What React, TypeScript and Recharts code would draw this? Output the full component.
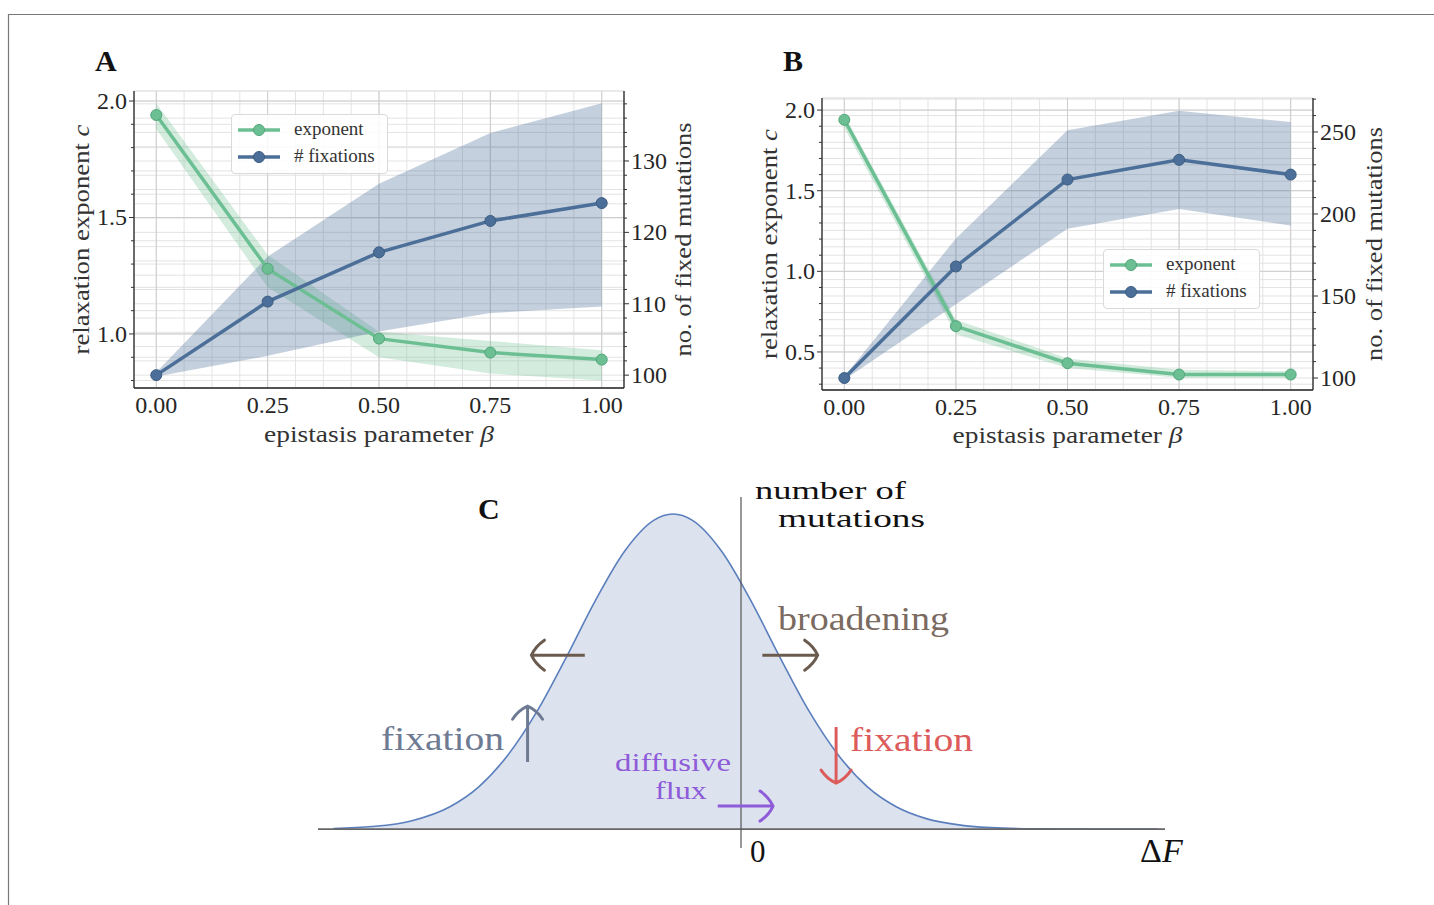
import React from 'react';
import {
  Area,
  CartesianGrid,
  ComposedChart,
  Line,
  ReferenceLine,
  XAxis,
  YAxis,
} from 'recharts';

const FONT = "'Liberation Serif', 'Times New Roman', serif";
const GREEN = '#6cbf93';
const GREEN_DARK = '#52a57a';
const BLUE = '#4b6f98';
const BLUE_DARK = '#3c5c82';

// shared x values
const BETA = [0, 0.25, 0.5, 0.75, 1];
const SERIES = ['exponent', '# fixations'];

// panel A
const A_EXP = [1.94, 1.28, 0.98, 0.92, 0.89];
const A_EXP_LO = [1.88, 1.2, 0.9, 0.83, 0.8];
const A_EXP_HI = [1.99, 1.34, 1.01, 0.97, 0.93];
const A_FIX = [100, 110.3, 117.2, 121.6, 124.1];
const A_FIX_LO = [99.8, 102.7, 106.1, 108.7, 109.6];
const A_FIX_HI = [100.4, 116.6, 126.8, 133.9, 138.1];

// panel B
const B_EXP = [1.94, 0.66, 0.43, 0.36, 0.36];
const B_EXP_LO = [1.89, 0.61, 0.4, 0.34, 0.34];
const B_EXP_HI = [1.97, 0.7, 0.46, 0.39, 0.38];
const B_FIX = [100, 168, 221, 233, 224];
const B_FIX_LO = [99, 145, 191, 203, 193];
const B_FIX_HI = [101, 185, 251, 263, 256];

// ticks
const X_TICKS = [0, 0.0625, 0.125, 0.1875, 0.25, 0.3125, 0.375, 0.4375, 0.5, 0.5625, 0.625, 0.6875, 0.75, 0.8125, 0.875, 0.9375, 1];
const X_MAJOR = [0, 0.25, 0.5, 0.75, 1];
const A_LEFT_TICKS = [0.8, 0.9, 1.0, 1.1, 1.2, 1.3, 1.4, 1.5, 1.6, 1.7, 1.8, 1.9, 2.0];
const A_LEFT_MAJOR = [1.0, 1.5, 2.0];
const A_RIGHT_TICKS = [100, 102, 104, 106, 108, 110, 112, 114, 116, 118, 120, 122, 124, 126, 128, 130, 132, 134, 136, 138];
const A_RIGHT_MAJOR = [100, 110, 120, 130];
const B_LEFT_TICKS = [0.3, 0.4, 0.5, 0.6, 0.7, 0.8, 0.9, 1.0, 1.1, 1.2, 1.3, 1.4, 1.5, 1.6, 1.7, 1.8, 1.9, 2.0];
const B_LEFT_MAJOR = [0.5, 1.0, 1.5, 2.0];
const B_RIGHT_TICKS = [100, 110, 120, 130, 140, 150, 160, 170, 180, 190, 200, 210, 220, 230, 240, 250, 260, 270];
const B_RIGHT_MAJOR = [100, 150, 200, 250];

// panel C: distribution of mutation effects
const DF = [-4.2, -3.8, -3.4, -3.0, -2.7, -2.4, -2.1, -1.8, -1.5, -1.2, -0.9, -0.7, -0.5, -0.2, 0.1, 0.4, 0.7, 1.0, 1.3, 1.6, 1.9, 2.3, 2.7, 3.1, 3.6, 4.3];
const COUNT = [0.002, 0.008, 0.026, 0.071, 0.135, 0.236, 0.375, 0.546, 0.726, 0.882, 0.98, 1.0, 0.98, 0.882, 0.726, 0.546, 0.375, 0.236, 0.135, 0.071, 0.034, 0.011, 0.003, 0.001, 0.0, 0.0];

const ARROWS = [
  { x1: -1.61, y1: 0.552, x2: -2.16, y2: 0.552, color: '#6b5b4f' },
  { x1: 0.22, y1: 0.552, x2: 0.79, y2: 0.552, color: '#6b5b4f' },
  { x1: -2.2, y1: 0.213, x2: -2.2, y2: 0.39, color: '#6e7b93' },
  { x1: 0.98, y1: 0.324, x2: 0.98, y2: 0.146, color: '#dc5b5b' },
  { x1: -0.24, y1: 0.073, x2: 0.33, y2: 0.073, color: '#8e5bd9' },
];

const isIn = (arr: number[], v: number) => arr.some((a) => Math.abs(a - v) < 1e-6);

const makeRows = (exp: number[], lo: number[], hi: number[], fix: number[], flo: number[], fhi: number[]) =>
  BETA.map((b, i) => ({
    beta: b,
    exp: exp[i],
    expBand: [lo[i], hi[i]],
    fix: fix[i],
    fixBand: [flo[i], fhi[i]],
  }));

const bottomTick = (props: any) => {
  const { x, y, payload } = props;
  if (!isIn(X_MAJOR, payload.value)) return <g />;
  return (
    <text x={x} y={y + 25} textAnchor="middle" fontSize={24} fill="#262626" fontFamily={FONT}>
      {payload.value.toFixed(2)}
    </text>
  );
};

const sideTick = (side: 'left' | 'right', major: number[], digits: number) => (props: any) => {
  const { x, y, payload } = props;
  const v = payload.value;
  const isMajor = isIn(major, v);
  const len = isMajor ? 5 : 3;
  const s = side === 'left' ? -1 : 1;
  return (
    <g>
      <line x1={x} x2={x + s * len} y1={y} y2={y} stroke="#333" strokeWidth={1} />
      {isMajor && (
        <text
          x={x + s * 7}
          y={y + 8}
          textAnchor={side === 'left' ? 'end' : 'start'}
          fontSize={24}
          fill="#262626"
          fontFamily={FONT}
        >
          {v.toFixed(digits)}
        </text>
      )}
    </g>
  );
};

const vLabel = (cx: number, cy: number, len: number, node: React.ReactNode) => () => (
  <text
    x={cx - len / 2}
    y={cy}
    transform={`rotate(-90 ${cx} ${cy})`}
    fontSize={24}
    fill="#333"
    fontFamily={FONT}
    textLength={len}
    lengthAdjust="spacingAndGlyphs"
  >
    {node}
  </text>
);

const hLabel = (cx: number, cy: number) => () => (
  <text
    x={cx - 115}
    y={cy}
    fontSize={24}
    fill="#333"
    fontFamily={FONT}
    textLength={230}
    lengthAdjust="spacingAndGlyphs"
  >
    epistasis parameter <tspan fontStyle="italic">β</tspan>
  </text>
);

function LegendBox({ left, top }: { left: number; top: number }) {
  const colors = [
    [GREEN, GREEN_DARK],
    [BLUE, BLUE_DARK],
  ];
  return (
    <div
      style={{
        position: 'absolute',
        left,
        top,
        width: 155,
        height: 58,
        border: '1px solid #dadada',
        borderRadius: 4,
        background: 'rgba(255,255,255,0.85)',
        fontFamily: FONT,
        fontSize: 19,
        color: '#333',
      }}
    >
      {SERIES.map((name, i) => (
        <div key={name} style={{ position: 'absolute', left: 0, top: 5 + i * 27, height: 20, width: 155 }}>
          <svg width={52} height={20} style={{ position: 'absolute', left: 0, top: 0 }}>
            <line x1={6} x2={48} y1={10} y2={10} stroke={colors[i][0]} strokeWidth={3.5} />
            <circle cx={27} cy={10} r={5.5} fill={colors[i][0]} stroke={colors[i][1]} strokeWidth={1} />
          </svg>
          <span style={{ position: 'absolute', left: 62, top: -2, whiteSpace: 'nowrap' }}>{name}</span>
        </div>
      ))}
    </div>
  );
}

type PanelProps = {
  left: number;
  top: number;
  marginTop: number;
  leftW: number;
  rightW: number;
  bottomH: number;
  rows: any[];
  leftDomain: [number, number];
  rightDomain: [number, number];
  leftTicks: number[];
  leftMajor: number[];
  rightTicks: number[];
  rightMajor: number[];
  leftLabelX: number;
  rightLabelX: number;
  xLabelY: number;
};

function Panel(p: PanelProps) {
  const W = 680;
  const H = 380;
  const plotCx = p.leftW + (W - p.leftW - p.rightW) / 2;
  const plotCy = p.marginTop + (H - p.marginTop - p.bottomH) / 2;
  return (
    <div style={{ position: 'absolute', left: p.left, top: p.top }}>
      <ComposedChart width={W} height={H} data={p.rows} margin={{ top: p.marginTop, right: 0, bottom: 0, left: 0 }}>
        <XAxis
          type="number"
          dataKey="beta"
          domain={[-0.05, 1.05]}
          ticks={X_TICKS}
          interval={0}
          height={p.bottomH}
          tickSize={0}
          tickMargin={0}
          tickLine={false}
          axisLine={{ stroke: '#222', strokeWidth: 1.3 }}
          tick={bottomTick}
          allowDataOverflow
          label={{ content: hLabel(plotCx, p.xLabelY) }}
        />
        <XAxis
          xAxisId="top"
          orientation="top"
          type="number"
          dataKey="beta"
          domain={[-0.05, 1.05]}
          height={0}
          tick={false}
          tickLine={false}
          axisLine={{ stroke: '#222', strokeWidth: 1.3 }}
        />
        <YAxis
          yAxisId="left"
          type="number"
          domain={p.leftDomain}
          ticks={p.leftTicks}
          interval={0}
          width={p.leftW}
          tickSize={0}
          tickMargin={0}
          tickLine={false}
          axisLine={{ stroke: '#222', strokeWidth: 1.3 }}
          tick={sideTick('left', p.leftMajor, 1)}
          allowDataOverflow
          label={{
            content: vLabel(p.leftLabelX, plotCy, 230, (
              <>
                relaxation exponent <tspan fontStyle="italic">c</tspan>
              </>
            )),
          }}
        />
        <YAxis
          yAxisId="right"
          orientation="right"
          type="number"
          domain={p.rightDomain}
          ticks={p.rightTicks}
          interval={0}
          width={p.rightW}
          tickSize={0}
          tickMargin={0}
          tickLine={false}
          axisLine={{ stroke: '#222', strokeWidth: 1.3 }}
          tick={sideTick('right', p.rightMajor, 0)}
          allowDataOverflow
          label={{ content: vLabel(p.rightLabelX, plotCy, 234, 'no. of fixed mutations') }}
        />
        <CartesianGrid yAxisId="left" stroke="#e3e3e3" strokeWidth={1} />
        <CartesianGrid yAxisId="right" vertical={false} stroke="#e3e3e3" strokeWidth={1} />
        <CartesianGrid
          yAxisId="left"
          horizontalValues={p.leftMajor}
          verticalValues={X_MAJOR}
          stroke="#cdcdcd"
          strokeWidth={1}
        />
        <Area
          yAxisId="left"
          type="linear"
          dataKey="expBand"
          stroke="none"
          fill={GREEN}
          fillOpacity={0.3}
          isAnimationActive={false}
        />
        <Line
          yAxisId="left"
          type="linear"
          dataKey="exp"
          stroke={GREEN}
          strokeWidth={3.5}
          dot={{ r: 5.5, fill: GREEN, stroke: GREEN_DARK, strokeWidth: 1 }}
          isAnimationActive={false}
        />
        <Area
          yAxisId="right"
          type="linear"
          dataKey="fixBand"
          stroke="none"
          fill={BLUE}
          fillOpacity={0.33}
          isAnimationActive={false}
        />
        <Line
          yAxisId="right"
          type="linear"
          dataKey="fix"
          stroke={BLUE}
          strokeWidth={3.5}
          dot={{ r: 5.5, fill: BLUE, stroke: BLUE_DARK, strokeWidth: 1 }}
          isAnimationActive={false}
        />
      </ComposedChart>
    </div>
  );
}

const arrowShape = (color: string) => (props: any) => {
  const { x1, y1, x2, y2 } = props;
  const dx = x2 - x1;
  const dy = y2 - y1;
  const L = Math.hypot(dx, dy) || 1;
  const ux = dx / L;
  const uy = dy / L;
  const nx = -uy;
  const ny = ux;
  const back = 13;
  const wide = 15;
  const b1x = x2 - back * ux + wide * nx;
  const b1y = y2 - back * uy + wide * ny;
  const b2x = x2 - back * ux - wide * nx;
  const b2y = y2 - back * uy - wide * ny;
  const k1x = x2 - 4 * ux + 9 * nx;
  const k1y = y2 - 4 * uy + 9 * ny;
  const k2x = x2 - 4 * ux - 9 * nx;
  const k2y = y2 - 4 * uy - 9 * ny;
  return (
    <g>
      <line x1={x1} y1={y1} x2={x2} y2={y2} stroke={color} strokeWidth={3} />
      <path
        d={`M${b1x},${b1y} Q${k1x},${k1y} ${x2},${y2} Q${k2x},${k2y} ${b2x},${b2y}`}
        fill="none"
        stroke={color}
        strokeWidth={3}
        strokeLinecap="round"
      />
    </g>
  );
};

function Sketch() {
  const rows = DF.map((d, i) => ({ df: d, h: COUNT[i] }));
  return (
    <div style={{ position: 'absolute', left: 318, top: 497 }}>
      <ComposedChart width={847} height={351} data={rows} margin={{ top: 0, right: 0, bottom: 0, left: 0 }}>
        <XAxis type="number" dataKey="df" domain={[-4.36, 4.37]} hide allowDataOverflow />
        <YAxis type="number" domain={[-0.06, 1.054]} hide allowDataOverflow />
        <Area
          type="monotone"
          dataKey="h"
          stroke="#5b7fbd"
          strokeWidth={1.6}
          fill="#dde3ee"
          fillOpacity={1}
          isAnimationActive={false}
        />
        <ReferenceLine y={0} stroke="#666" strokeWidth={1.6} />
        <ReferenceLine x={0} stroke="#555" strokeWidth={1.2} />
        {ARROWS.map((a, i) => (
          <ReferenceLine
            key={i}
            segment={[
              { x: a.x1, y: a.y1 },
              { x: a.x2, y: a.y2 },
            ]}
            shape={arrowShape(a.color)}
          />
        ))}
      </ComposedChart>
    </div>
  );
}

const ann = (x: number, y: number, size: number, color: string, len: number, text: string) => (
  <text x={x} y={y} fontSize={size} fill={color} textLength={len} lengthAdjust="spacingAndGlyphs">
    {text}
  </text>
);

export default function App() {
  const rowsA = makeRows(A_EXP, A_EXP_LO, A_EXP_HI, A_FIX, A_FIX_LO, A_FIX_HI);
  const rowsB = makeRows(B_EXP, B_EXP_LO, B_EXP_HI, B_FIX, B_FIX_LO, B_FIX_HI);
  return (
    <div
      style={{
        position: 'absolute',
        left: 0,
        top: 0,
        width: 1434,
        height: 905,
        background: '#fff',
        overflow: 'hidden',
        fontFamily: FONT,
      }}
    >
      <Panel
        left={40}
        top={80}
        marginTop={11}
        leftW={94}
        rightW={96}
        bottomH={72}
        rows={rowsA}
        leftDomain={[0.768, 2.043]}
        rightDomain={[98.2, 139.8]}
        leftTicks={A_LEFT_TICKS}
        leftMajor={A_LEFT_MAJOR}
        rightTicks={A_RIGHT_TICKS}
        rightMajor={A_RIGHT_MAJOR}
        leftLabelX={49}
        rightLabelX={651}
        xLabelY={362}
      />
      <Panel
        left={730}
        top={85}
        marginTop={13}
        leftW={92}
        rightW={97}
        bottomH={75}
        rows={rowsB}
        leftDomain={[0.264, 2.075]}
        rightDomain={[92.7, 270.7]}
        leftTicks={B_LEFT_TICKS}
        leftMajor={B_LEFT_MAJOR}
        rightTicks={B_RIGHT_TICKS}
        rightMajor={B_RIGHT_MAJOR}
        leftLabelX={47}
        rightLabelX={652}
        xLabelY={358}
      />
      <LegendBox left={231} top={114} />
      <LegendBox left={1103} top={249} />
      <Sketch />
      <svg
        width={1434}
        height={905}
        style={{ position: 'absolute', left: 0, top: 0, pointerEvents: 'none' }}
        fontFamily={FONT}
      >
        <line x1={8} y1={14.5} x2={1434} y2={14.5} stroke="#777" strokeWidth={1.2} />
        <line x1={8.5} y1={14} x2={8.5} y2={905} stroke="#777" strokeWidth={1.2} />
        <text x={95} y={71} fontSize={30} fontWeight="bold" fill="#111">A</text>
        <text x={783} y={71} fontSize={30} fontWeight="bold" fill="#111">B</text>
        <text x={478} y={519} fontSize={30} fontWeight="bold" fill="#111">C</text>
        {ann(755, 499, 25, '#111', 151, 'number of')}
        {ann(778, 527, 25, '#111', 147, 'mutations')}
        {ann(778, 630, 34, '#7a6a5f', 171, 'broadening')}
        {ann(381, 750, 34, '#6e7b93', 123, 'fixation')}
        {ann(850, 751, 34, '#dc5b5b', 123, 'fixation')}
        {ann(615, 771, 25, '#8e5bd9', 116, 'diffusive')}
        {ann(655, 799, 25, '#8e5bd9', 52, 'flux')}
        <text x={750} y={862} fontSize={31} fill="#111">0</text>
        <text x={1140} y={862} fontSize={34} fill="#111">
          Δ<tspan fontStyle="italic">F</tspan>
        </text>
      </svg>
    </div>
  );
}
